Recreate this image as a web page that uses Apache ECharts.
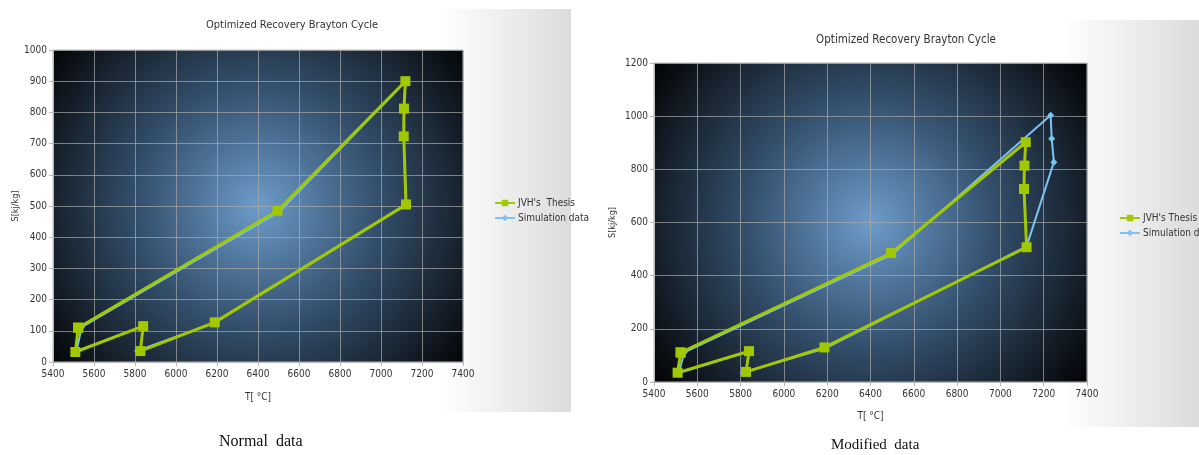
<!DOCTYPE html>
<html>
<head>
<meta charset="utf-8">
<script src="https://cdn.jsdelivr.net/npm/echarts@6/dist/echarts.min.js"></script>
<style>
html,body{margin:0;padding:0;background:#fff;}
#chart{width:1199px;height:455px;}
</style>
</head>
<body>
<div id="chart"></div>
<script>
// ---- data ----
const chartTitle = 'Optimized Recovery Brayton Cycle';
const seriesNames = ["JVH's  Thesis", 'Simulation data'];
const seriesNamesModified = ["JVH's Thesis", 'Simulation data'];
const captions = ['Normal  data', 'Modified  data'];
const xName = 'T[ °C]';
const yName = 'S[kj/kg]';

// Normal data
const normalThesisT = [5523, 6495, 7119, 7112, 7111, 7122, 6189, 5826, 5840, 5509, 5523];
const normalThesisS = [110, 485, 900, 812, 723, 505, 127, 35, 115, 32, 110];
const normalSimT = [5840, 5515, 5540, 6500, 7119, 7112, 7111, 7122, 6189, 5812];
const normalSimS = [115, 35, 112, 480, 898, 810, 722, 503, 126, 36];

// Modified data
const modThesisT = [5523, 6495, 7117, 7111, 7109, 7121, 6187, 5825, 5839, 5509, 5523];
const modThesisS = [111, 485, 902, 814, 726, 507, 130, 38, 116, 35, 111];
const modSimT = [5840, 5515, 5540, 6500, 7232, 7237, 7247, 7121, 6189, 5812];
const modSimS = [115, 35, 112, 480, 1003, 915, 827, 510, 126, 36];

const xMin = 5400, xMax = 7400, xStep = 200;
const yMaxNormal = 1000, yStepNormal = 100;
const yMaxMod = 1200, yStepMod = 200;

// ---- helpers ----
const zip = (a, b) => a.map((v, i) => [v, b[i]]);
const GREEN = '#a2c800';
const BLUE = '#7cc3f2';
const font = "'Liberation Sans Narrow','DejaVu Sans Condensed','Roboto Condensed','Liberation Sans',Arial,sans-serif";

const plotBg = {
  type: 'radial', x: 0.5, y: 0.5, r: 0.85,
  colorStops: [
    { offset: 0, color: '#6d9cca' },
    { offset: 0.45, color: '#34506d' },
    { offset: 0.8, color: '#141d27' },
    { offset: 1, color: '#000000' }
  ]
};

function xAxisCfg(gridIndex, gap) {
  return {
    gridIndex, type: 'value', min: xMin, max: xMax, interval: xStep,
    name: xName, nameLocation: 'middle', nameGap: gap,
    nameTextStyle: { color: '#333', fontSize: 10, fontFamily: font },
    axisLine: { show: true, lineStyle: { color: '#b8b8b8', width: 1 } },
    axisTick: { show: true, length: 4, lineStyle: { color: '#b8b8b8' } },
    axisLabel: { color: '#333', fontSize: 10, fontFamily: font, margin: 7, formatter: v => String(v) },
    splitLine: { show: true, lineStyle: { color: 'rgba(170,170,170,0.7)', width: 1 } }
  };
}
function yAxisCfg(gridIndex, max, step, gap) {
  return {
    gridIndex, type: 'value', min: 0, max: max, interval: step,
    name: yName, nameLocation: 'middle', nameGap: gap, nameRotate: 90,
    nameTextStyle: { color: '#333', fontSize: 9, fontFamily: font },
    axisLine: { show: true, lineStyle: { color: '#b8b8b8', width: 1 } },
    axisTick: { show: true, length: 4, lineStyle: { color: '#b8b8b8' } },
    axisLabel: { color: '#333', fontSize: 10, fontFamily: font, margin: 6, formatter: v => String(v) },
    splitLine: { show: true, lineStyle: { color: 'rgba(170,170,170,0.7)', width: 1 } }
  };
}
function thesisSeries(name, idx, data) {
  return {
    name, type: 'line', xAxisIndex: idx, yAxisIndex: idx, data,
    symbol: 'rect', symbolSize: 10, z: 3,
    lineStyle: { color: GREEN, width: 3 },
    itemStyle: { color: GREEN },
    animation: false
  };
}
function simSeries(name, idx, data) {
  return {
    name, type: 'line', xAxisIndex: idx, yAxisIndex: idx, data,
    symbol: 'diamond', symbolSize: 7, z: 2,
    lineStyle: { color: BLUE, width: 2 },
    itemStyle: { color: BLUE },
    animation: false
  };
}

const chart = echarts.init(document.getElementById('chart'), null, { renderer: 'canvas' });
const option = {
  backgroundColor: '#ffffff',
  animation: false,
  graphic: [
    { type: 'rect', z: -10, shape: { x: 440, y: 9, width: 131, height: 403 },
      style: { fill: { type: 'linear', x: 0, y: 0, x2: 1, y2: 0,
        colorStops: [{ offset: 0, color: '#ffffff' }, { offset: 1, color: '#dcdcdc' }] } } },
    { type: 'rect', z: -10, shape: { x: 1062, y: 20, width: 137, height: 407 },
      style: { fill: { type: 'linear', x: 0, y: 0, x2: 1, y2: 0,
        colorStops: [{ offset: 0, color: '#ffffff' }, { offset: 1, color: '#dcdcdc' }] } } },
    { type: 'text', left: 219, top: 434,
      style: { text: captions[0], font: "16px 'Liberation Serif','DejaVu Serif',serif", fill: '#111' } },
    { type: 'text', left: 831, top: 438,
      style: { text: captions[1], font: "15px 'Liberation Serif','DejaVu Serif',serif", fill: '#111' } }
  ],
  title: [
    { text: chartTitle, left: 287, top: 15, textAlign: 'center',
      textStyle: { fontSize: 11, fontWeight: 'normal', color: '#333', fontFamily: font } },
    { text: chartTitle, left: 901, top: 29, textAlign: 'center',
      textStyle: { fontSize: 11.5, fontWeight: 'normal', color: '#333', fontFamily: font } }
  ],
  legend: [
    { orient: 'vertical', left: 489, top: 193, itemWidth: 20, itemHeight: 8, itemGap: 5,
      data: [seriesNames[0], seriesNames[1]],
      textStyle: { fontSize: 10, color: '#333', fontFamily: font, padding: [0, 0, 0, -2] } },
    { orient: 'vertical', left: 1114, top: 208, itemWidth: 20, itemHeight: 8, itemGap: 5,
      data: [seriesNamesModified[0], seriesNamesModified[1]],
      textStyle: { fontSize: 10, color: '#333', fontFamily: font, padding: [0, 0, 0, -2] } }
  ],
  grid: [
    { left: 53, top: 50, width: 410, height: 312, show: true, backgroundColor: plotBg,
      borderColor: '#b8b8b8', borderWidth: 1 },
    { left: 654, top: 63, width: 433, height: 319, show: true, backgroundColor: plotBg,
      borderColor: '#b8b8b8', borderWidth: 1 }
  ],
  xAxis: [xAxisCfg(0, 30), xAxisCfg(1, 29)],
  yAxis: [yAxisCfg(0, yMaxNormal, yStepNormal, 20), yAxisCfg(1, yMaxMod, yStepMod, 37)],
  series: [
    thesisSeries(seriesNames[0], 0, zip(normalThesisT, normalThesisS)),
    simSeries(seriesNames[1], 0, zip(normalSimT, normalSimS)),
    thesisSeries(seriesNamesModified[0], 1, zip(modThesisT, modThesisS)),
    simSeries(seriesNamesModified[1], 1, zip(modSimT, modSimS))
  ]
};
chart.setOption(option);
</script>
</body>
</html>
